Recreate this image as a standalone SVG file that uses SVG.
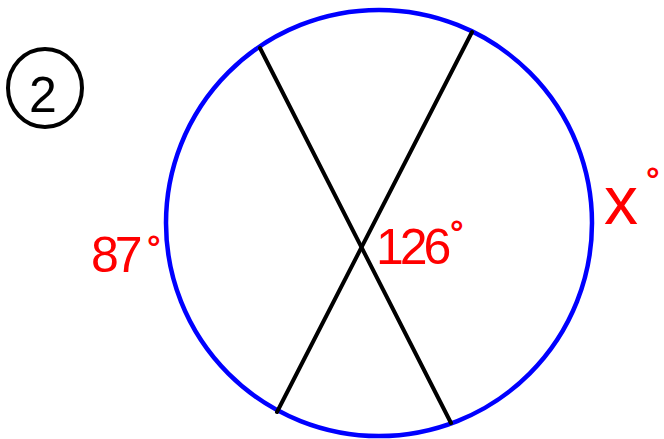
<svg xmlns="http://www.w3.org/2000/svg" width="664" height="439" viewBox="0 0 664 439">
<style>
.lbl{fill:#ff0000;font-family:"Liberation Sans",Arial,sans-serif;font-size:50px}
.deg{fill:#ff0000;font-family:"Liberation Sans",Arial,sans-serif;font-size:34px;font-weight:bold}
.chord{stroke:#000;stroke-width:4;stroke-linecap:round}
</style>
<rect width="664" height="439" fill="#fff"/>
<g id="problem-number">
<ellipse cx="45" cy="88" rx="37" ry="39" fill="none" stroke="#000" stroke-width="4"/>
<text x="43" y="112" text-anchor="middle" font-family="Liberation Sans,Arial,sans-serif" font-size="50" fill="#000">2</text>
</g>
<g id="circle">
<circle cx="379" cy="223" r="213" fill="none" stroke="#0000ff" stroke-width="4.5"/>
</g>
<g id="connectors">
<line class="chord" x1="260" y1="48" x2="451" y2="423"/>
<line class="chord" x1="472" y1="32" x2="277" y2="412"/>
</g>
<g id="label-87">
<text class="lbl" x="91" y="272" letter-spacing="-4">87</text>
<text class="deg" x="147" y="259">°</text>
</g>
<g id="label-126">
<text class="lbl" x="376" y="264" letter-spacing="-4">126</text>
<text class="deg" x="450" y="244">°</text>
</g>
<g id="label-x">
<text class="lbl" x="604" y="224" style="font-size:68px">x</text>
<text class="deg" x="646" y="191">°</text>
</g>
</svg>
